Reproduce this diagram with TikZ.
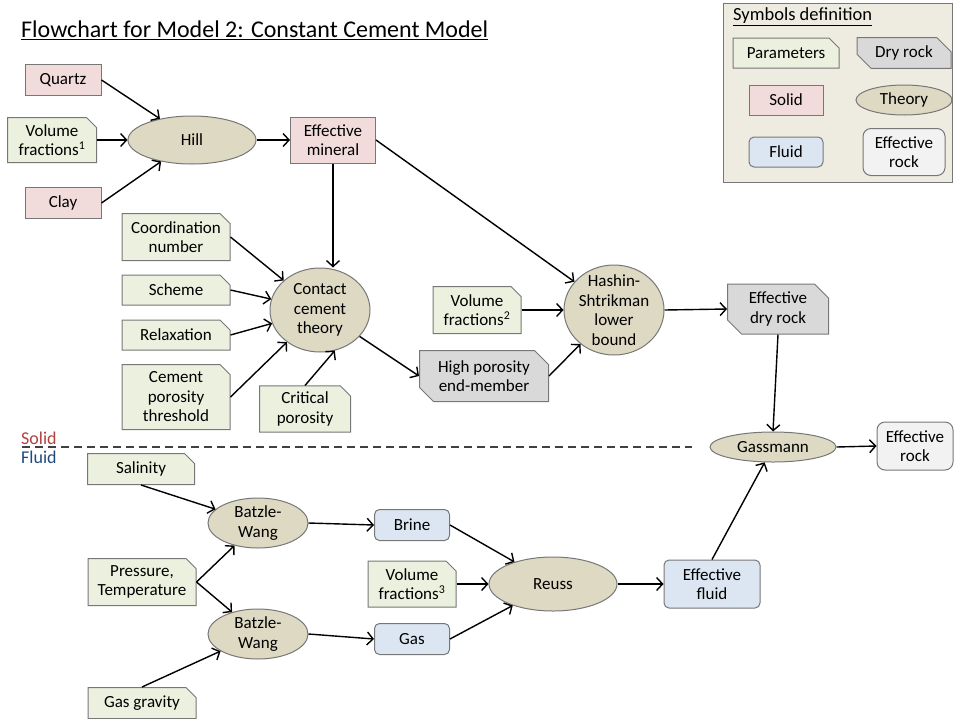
\documentclass[tikz,border=0pt]{standalone}
\usepackage{fontspec}
\setmainfont{Carlito}
\usetikzlibrary{shapes.geometric,shapes.misc,arrows.meta,positioning}

\definecolor{paramfill}{HTML}{EBF1DE}
\definecolor{solidfill}{HTML}{F2DCDB}
\definecolor{dryfill}{HTML}{D9D9D9}
\definecolor{theoryfill}{HTML}{DDD9C3}
\definecolor{fluidfill}{HTML}{DCE6F2}
\definecolor{rockfill}{HTML}{F2F2F2}
\definecolor{legendfill}{HTML}{EEECE1}
\definecolor{boxgray}{HTML}{777777}
\definecolor{solidred}{HTML}{B0413E}
\definecolor{fluidblue}{HTML}{1F497D}

\tikzset{
  box/.style={draw=boxgray, line width=1pt, align=center, inner sep=1pt,
    font=\fontsize{17}{19.5}\selectfont},
  param/.style={box, chamfered rectangle, chamfered rectangle corners=north east,
    chamfered rectangle xsep=5pt, chamfered rectangle ysep=5pt, fill=paramfill},
  solid/.style={box, rectangle, fill=solidfill},
  dry/.style={box, chamfered rectangle, chamfered rectangle corners={north east,south west},
    chamfered rectangle xsep=7pt, chamfered rectangle ysep=7pt, fill=dryfill},
  theory/.style={box, ellipse, inner sep=0pt, fill=theoryfill},
  fluid/.style={box, rectangle, rounded corners=5pt, fill=fluidfill},
  effrock/.style={box, rectangle, rounded corners=8pt, fill=rockfill},
  flow/.style={draw=black, line width=1.4pt, -{Straight Barb[length=6pt,width=13pt]}},
}

\begin{document}
\begin{tikzpicture}[x=1pt,y=-1pt]
\useasboundingbox (0,0) rectangle (955,718);

% title
\node[anchor=west, inner sep=0pt, font=\fontsize{24}{28}\selectfont] (title) at (21,30)
  {\underline{Flowchart for Model 2: Constant Cement Model}};

% legend
\draw[draw=boxgray, line width=1pt, fill=legendfill] (723,3) rectangle (952,182);
\node[anchor=west, inner sep=0pt, font=\fontsize{18.5}{21}\selectfont] (legtitle) at (733,17)
  {\underline{Symbols definition}};
\node[param, minimum width=106, minimum height=30] (legparam) at (786,53) {Parameters};
\node[dry, minimum width=94, minimum height=30] (legdry) at (904,53) {Dry rock};
\node[solid, minimum width=74, minimum height=30] (legsolid) at (786,100) {Solid};
\node[theory, minimum width=96, minimum height=30] (legtheory) at (904,100) {Theory};
\node[fluid, minimum width=74, minimum height=30] (legfluid) at (786,152) {Fluid};
\node[effrock, minimum width=82, minimum height=47] (legrock) at (904,152) {Effective\\rock};

% solid part
\node[solid, minimum width=76, minimum height=31] (quartz) at (63,80) {Quartz};
\node[param, minimum width=89, minimum height=45] (vf1) at (52,140) {Volume\\fractions\textsuperscript{1}};
\node[solid, minimum width=76, minimum height=31] (clay) at (63,203) {Clay};
\node[theory, minimum width=128, minimum height=48] (hill) at (192,140) {Hill};
\node[solid, minimum width=85, minimum height=46] (effmin) at (333,140) {Effective\\mineral};

\node[param, minimum width=108, minimum height=47] (coord) at (176,237) {Coordination\\number};
\node[param, minimum width=108, minimum height=30] (scheme) at (176,290) {Scheme};
\node[param, minimum width=108, minimum height=30] (relax) at (176,335) {Relaxation};
\node[param, minimum width=108, minimum height=65] (cpt) at (176,397) {Cement\\porosity\\threshold};
\node[theory, minimum width=100, minimum height=84] (contact) at (320,310) {Contact\\cement\\theory};
\node[param, minimum width=91, minimum height=43] (critpor) at (305,409) {Critical\\porosity};

\node[param, minimum width=88, minimum height=47] (vf2) at (477,310) {Volume\\fractions\textsuperscript{2}};
\node[dry, minimum width=129, minimum height=51] (highpor) at (484,376) {High porosity\\end-member};
\node[theory, inner sep=-5pt, minimum width=100, minimum height=90] (hs) at (614,310) {Hashin-\\Shtrikman\\lower\\bound};
\node[dry, minimum width=101, minimum height=46] (effdry) at (778,309) {Effective\\dry rock};

% solid / fluid divider
\coordinate (divl) at (22,447);
\coordinate (divr) at (692,447);
\draw[black!75, line width=1.2pt, dash pattern=on 8pt off 5pt] (divl) -- (divr);
\node[anchor=south west, inner sep=1pt, text=solidred, font=\fontsize{18}{20}\selectfont] (solidlab) at (20,446) {Solid};
\node[anchor=north west, inner sep=1pt, text=fluidblue, font=\fontsize{18}{20}\selectfont] (fluidlab) at (20,450) {Fluid};

\node[theory, minimum width=126, minimum height=30] (gassmann) at (773,447) {Gassmann};
\node[effrock, minimum width=76, minimum height=48] (effrock) at (915,446) {Effective\\rock};

% fluid part
\node[param, minimum width=107, minimum height=31] (salinity) at (141,469) {Salinity};
\node[theory, minimum width=100, minimum height=50] (bw1) at (258,523) {Batzle-\\Wang};
\node[param, minimum width=108, minimum height=47] (pt) at (142,582) {Pressure,\\Temperature};
\node[theory, minimum width=100, minimum height=50] (bw2) at (258,634) {Batzle-\\Wang};
\node[param, minimum width=108, minimum height=31] (gasgrav) at (142,703) {Gas gravity};

\node[fluid, minimum width=75, minimum height=31] (brine) at (412,525) {Brine};
\node[param, minimum width=88, minimum height=46] (vf3) at (412,584) {Volume\\fractions\textsuperscript{3}};
\node[fluid, minimum width=75, minimum height=31] (gas) at (412,639) {Gas};
\node[theory, minimum width=128, minimum height=54] (reuss) at (553,584) {Reuss};
\node[fluid, minimum width=96, minimum height=48] (efffluid) at (712,584) {Effective\\fluid};

% connectors
\draw[flow] (quartz.east) -- (hill);
\draw[flow] (vf1.east) -- (hill.west);
\draw[flow] (clay.east) -- (hill);
\draw[flow] (hill.east) -- (effmin.west);
\draw[flow] (effmin.south) -- (effmin.south |- contact.north);
\draw[flow] (effmin.east) -- (hs);
\draw[flow] (coord.east) -- (contact);
\draw[flow] (scheme.east) -- (contact);
\draw[flow] (relax.east) -- (contact);
\draw[flow] (cpt.east) -- (contact);
\draw[flow] (critpor.north) -- (contact.-70);
\draw[flow] (contact) -- (highpor.west);
\draw[flow] (vf2.east) -- (hs.west);
\draw[flow] (highpor.east) -- (hs);
\draw[flow] (hs.east) -- (effdry.west);
\draw[flow] (effdry.south) -- (gassmann.north);
\draw[flow] (gassmann.east) -- (effrock.west);

\draw[flow] (salinity.south) -- (bw1);
\draw[flow] (pt.east) -- (bw1);
\draw[flow] (pt.east) -- (bw2);
\draw[flow] (gasgrav.north) -- (bw2);
\draw[flow] (bw1.east) -- (brine.west);
\draw[flow] (bw2.east) -- (gas.west);
\draw[flow] (brine.east) -- (reuss);
\draw[flow] (vf3.east) -- (reuss.west);
\draw[flow] (gas.east) -- (reuss);
\draw[flow] (reuss.east) -- (efffluid.west);
\draw[flow] (efffluid.north) -- (gassmann);
\end{tikzpicture}
\end{document}
